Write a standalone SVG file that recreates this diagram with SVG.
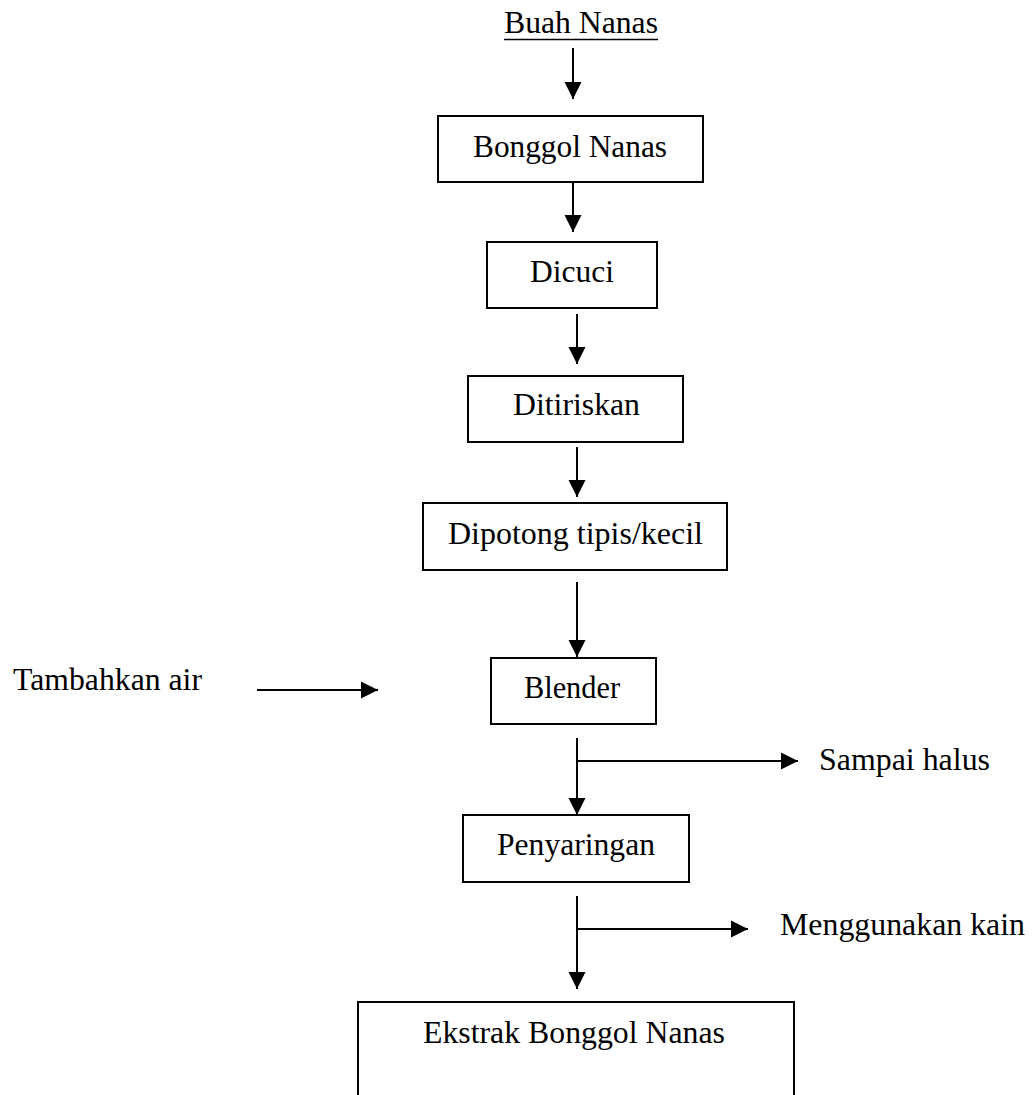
<svg xmlns="http://www.w3.org/2000/svg" width="1034" height="1095" viewBox="0 0 1034 1095">
<style>
  .box { fill: #ffffff; stroke: #000000; stroke-width: 2; }
  .lbl { font-family: "Liberation Serif", "Times New Roman", serif; font-size: 31px; fill: #000000; }
  .con { stroke: #000000; stroke-width: 2; fill: none; }
  .arr { marker-end: url(#ah); }
</style>
<defs>
  <marker id="ah" markerUnits="userSpaceOnUse" markerWidth="18" markerHeight="18" refX="17" refY="9" orient="auto">
    <path d="M0,0.5 L17,9 L0,17.5 Z" fill="#000000"/>
  </marker>
</defs>
<rect width="1034" height="1095" fill="#ffffff"/>

<g id="connectors">
  <line class="con arr" x1="573" y1="48" x2="573" y2="99"/>
  <line class="con arr" x1="573" y1="182" x2="573" y2="232"/>
  <line class="con arr" x1="577" y1="314" x2="577" y2="364"/>
  <line class="con arr" x1="577" y1="447" x2="577" y2="497"/>
  <line class="con arr" x1="577" y1="582" x2="577" y2="657"/>
  <line class="con arr" x1="257" y1="690" x2="378" y2="690"/>
  <line class="con arr" x1="577" y1="738" x2="577" y2="815"/>
  <line class="con arr" x1="577" y1="761" x2="798" y2="761"/>
  <line class="con arr" x1="577" y1="896" x2="577" y2="989"/>
  <line class="con arr" x1="577" y1="929" x2="748" y2="929"/>
</g>

<g id="buah-nanas">
  <text class="lbl" x="504" y="33" textLength="154" lengthAdjust="spacingAndGlyphs">Buah Nanas</text>
  <line x1="504" y1="39.5" x2="658" y2="39.5" stroke="#000000" stroke-width="1.6"/>
</g>

<g id="bonggol-nanas">
  <rect class="box" x="438" y="116" width="265" height="66"/>
  <text class="lbl" x="473" y="157" textLength="194" lengthAdjust="spacingAndGlyphs">Bonggol Nanas</text>
</g>

<g id="dicuci">
  <rect class="box" x="487" y="242" width="170" height="66"/>
  <text class="lbl" x="530" y="282" textLength="84" lengthAdjust="spacingAndGlyphs">Dicuci</text>
</g>

<g id="ditiriskan">
  <rect class="box" x="468" y="376" width="215" height="66"/>
  <text class="lbl" x="513" y="415" textLength="127" lengthAdjust="spacingAndGlyphs">Ditiriskan</text>
</g>

<g id="dipotong">
  <rect class="box" x="423" y="503" width="304" height="67"/>
  <text class="lbl" x="448" y="544" textLength="255" lengthAdjust="spacingAndGlyphs">Dipotong tipis/kecil</text>
</g>

<g id="tambahkan-air">
  <text class="lbl" x="13" y="690" textLength="189" lengthAdjust="spacingAndGlyphs">Tambahkan air</text>
</g>

<g id="blender">
  <rect class="box" x="491" y="658" width="165" height="66"/>
  <text class="lbl" x="524" y="698" textLength="96" lengthAdjust="spacingAndGlyphs">Blender</text>
</g>

<g id="sampai-halus">
  <text class="lbl" x="819" y="770" textLength="171" lengthAdjust="spacingAndGlyphs">Sampai halus</text>
</g>

<g id="penyaringan">
  <rect class="box" x="463" y="815" width="226" height="67"/>
  <text class="lbl" x="497" y="855" textLength="158" lengthAdjust="spacingAndGlyphs">Penyaringan</text>
</g>

<g id="menggunakan-kain">
  <text class="lbl" x="780" y="935" textLength="245" lengthAdjust="spacingAndGlyphs">Menggunakan kain</text>
</g>

<g id="ekstrak">
  <rect class="box" x="358" y="1002" width="436" height="110"/>
  <text class="lbl" x="423" y="1043" textLength="302" lengthAdjust="spacingAndGlyphs">Ekstrak Bonggol Nanas</text>
</g>
</svg>
